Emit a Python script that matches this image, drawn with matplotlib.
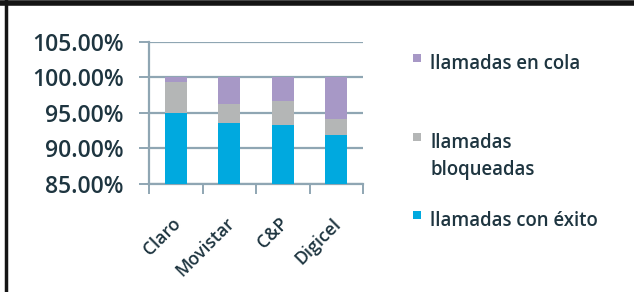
import matplotlib.pyplot as plt
import matplotlib.transforms as mtransforms
from matplotlib.lines import Line2D
from matplotlib.patches import Rectangle
import numpy as np

plt.rcParams["font.family"] = ["Open Sans", "DejaVu Sans"]
plt.rcParams["font.weight"] = "semibold"

companies = ["Claro", "Movistar", "C&P", "Digicel"]
exito = [95.0, 93.6, 93.35, 91.9]
bloqueadas = [4.4, 2.7, 3.25, 2.3]
cola = [0.6, 3.7, 3.4, 5.8]

series = [
    ("llamadas con éxito", exito, "#00A9DF"),
    ("llamadas\nbloqueadas", bloqueadas, "#B4B6B6"),
    ("llamadas en cola", cola, "#A798C6"),
]
yticks = [85, 90, 95, 100, 105]

TEXT = "#1E3540"
GRID = "#8FA6B3"

fig = plt.figure(figsize=(6.34, 2.92), dpi=100, facecolor="white")
ax = fig.add_axes([149 / 634, 1 - 184 / 292, 214 / 634, 142.3 / 292])

x = np.arange(len(companies))
bottom = np.zeros(len(companies))
for label, values, color in series:
    vals = np.array(values)
    ax.bar(x, vals, bottom=bottom, width=0.41, color=color, zorder=3)
    bottom = bottom + vals

ax.set_xlim(-0.5, len(companies) - 0.5)
ax.set_ylim(85, 105)
ax.set_yticks(yticks)
ax.set_yticklabels([f"{v:.2f}%" for v in yticks], fontsize=16.5, color=TEXT)
ax.yaxis.grid(True, color=GRID, linewidth=1.6, zorder=0)
ax.tick_params(axis="y", length=7, width=1.4, color=GRID, pad=11)

ax.set_xticks(np.arange(len(companies) + 1) - 0.5, minor=False)
ax.set_xticklabels([])
ax.set_xticks(x, minor=True)
ax.set_xticklabels(companies, minor=True, rotation=45, ha="right",
                   rotation_mode="anchor", fontsize=12.8, color=TEXT)
ax.tick_params(axis="x", which="major", length=7, width=1.4, color=GRID)
ax.tick_params(axis="x", which="minor", length=0, pad=22)
shift = mtransforms.ScaledTranslation(-4 / 100, 0, fig.dpi_scale_trans)
for lbl in ax.get_xticklabels(minor=True):
    lbl.set_transform(lbl.get_transform() + shift)

for side in ("top", "right"):
    ax.spines[side].set_visible(False)
for side in ("left", "bottom"):
    ax.spines[side].set_color(GRID)
    ax.spines[side].set_linewidth(1.6)

# legend, drawn by hand to follow the spacing of the original
legend_y = [215, 137, 58]
for (label, values, color), y in zip(series, legend_y):
    fig.patches.append(Rectangle((413 / 634, 1 - (y + 4) / 292), 8 / 634, 8 / 292,
                                 transform=fig.transFigure, facecolor=color,
                                 edgecolor="none"))
    fig.text(430 / 634, 1 - (y - 4) / 292, label, fontsize=13.4, color=TEXT,
             va="top", ha="left", linespacing=1.45)

# dark frame on the top and left edges
fig.add_artist(Line2D([0, 1], [1 - 2.5 / 292] * 2, color="#151515", linewidth=4,
                      transform=fig.transFigure))
fig.add_artist(Line2D([5.5 / 634] * 2, [0, 1], color="#151515", linewidth=2.5,
                      transform=fig.transFigure))

fig.savefig("out.png", dpi=100, facecolor="white")
